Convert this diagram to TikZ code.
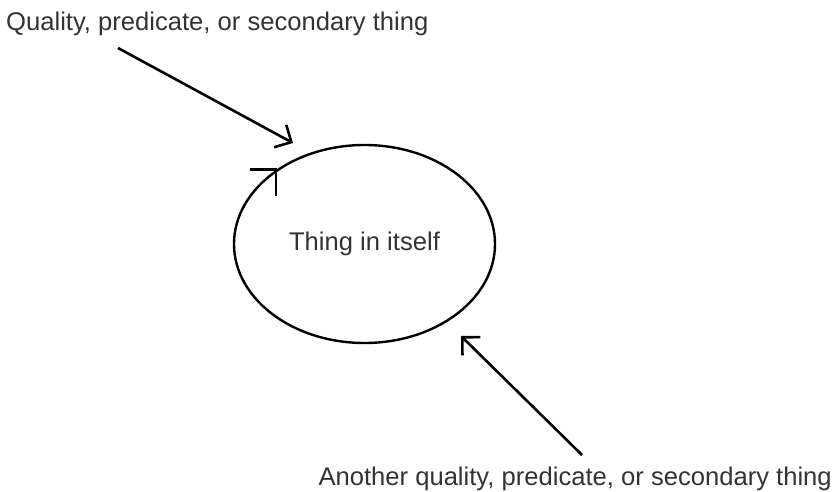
\documentclass[tikz,border=0pt]{standalone}
\usepackage{fontspec}
\setmainfont{Liberation Sans}
\usetikzlibrary{shapes.geometric,arrows.meta,calc}
\begin{document}
\begin{tikzpicture}[x=1pt,y=-1pt,
  lbl/.style={font=\fontsize{25.6}{30}\selectfont, text=black!80, inner sep=0pt},
  conn/.style={line width=2.6pt, -{Straight Barb[angle=90:18pt]}},
  barb/.style={line width=2.6pt}]
\useasboundingbox (0,0) rectangle (836,492);
\node[lbl, anchor=base west] (q1) at (6,31) {Quality, predicate, or secondary thing};
\node[lbl, anchor=base east] (q2) at (832,485) {Another quality, predicate, or secondary thing};
\node[draw, line width=2.4pt, ellipse, minimum width=261pt, minimum height=198pt, inner sep=0pt,
      lbl] (th) at (364.5,244) {Thing in itself};
\coordinate (a1s) at (118,48);
\coordinate (a1e) at (293,143);
\coordinate (a2s) at (582,455);
\coordinate (a2e) at (461,336);
\draw[conn] (a1s) -- (a1e);
\draw[conn] (a2s) -- (a2e);
\coordinate (tp) at (th.140);
\draw[barb] ($(tp)+(-26,0)$) -- (tp) -- ($(tp)+(0,26)$);
\end{tikzpicture}
\end{document}
